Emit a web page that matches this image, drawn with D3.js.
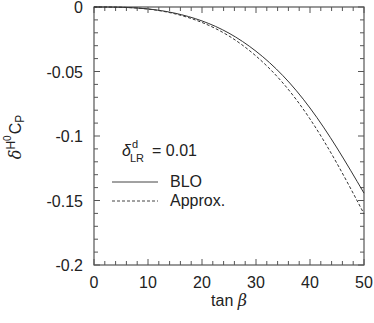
<!DOCTYPE html>
<html><head><meta charset="utf-8">
<script src="https://cdn.jsdelivr.net/npm/d3@7"></script>
<style>body{margin:0;background:#fff}svg{display:block}text{font-family:"Liberation Sans",Arial,sans-serif;fill:#222}</style>
</head><body><svg id="c" width="374" height="323"></svg>
<script>
const tanBeta = [0, 5, 10, 15, 20, 25, 30, 35, 40, 45, 50];
const bloValues = [0, -0.0002, -0.0015, -0.0048, -0.0108, -0.0203, -0.0343, -0.0533, -0.0783, -0.1093, -0.1443];
const approxValues = [0, -0.0002, -0.0016, -0.0053, -0.012, -0.0225, -0.038, -0.059, -0.0868, -0.1213, -0.1603];
const xTicks = [0, 10, 20, 30, 40, 50];
const yTicks = [0, -0.05, -0.1, -0.15, -0.2];
const yTickLabels = ["0", "-0.05", "-0.1", "-0.15", "-0.2"];

const svg = d3.select("#c");
const L = 94, R = 364, T = 7, B = 265;
const x = d3.scaleLinear().domain([0, 50]).range([L, R]);
const y = d3.scaleLinear().domain([-0.2, 0]).range([B, T]);
const axisCol = "#555";
const fs = 16;

const g = svg.append("g");
const xMinor = d3.range(0, 50.001, 2);
const yMinor = d3.range(-0.2, 0.0001, 0.01);
function tickLen(v, majors){ return majors.some(m => Math.abs(m - v) < 1e-6) ? 6 : 4; }
xMinor.forEach(v => {
  const l = tickLen(v, xTicks);
  g.append("line").attr("x1", x(v)).attr("x2", x(v)).attr("y1", B).attr("y2", B - l).attr("stroke", axisCol);
  g.append("line").attr("x1", x(v)).attr("x2", x(v)).attr("y1", T).attr("y2", T + l).attr("stroke", axisCol);
});
yMinor.forEach(v => {
  const l = tickLen(v, yTicks);
  g.append("line").attr("y1", y(v)).attr("y2", y(v)).attr("x1", L).attr("x2", L + l).attr("stroke", axisCol);
  g.append("line").attr("y1", y(v)).attr("y2", y(v)).attr("x1", R).attr("x2", R - l).attr("stroke", axisCol);
});
g.append("rect").attr("x", L).attr("y", T).attr("width", R - L).attr("height", B - T)
  .attr("fill", "none").attr("stroke", axisCol).attr("stroke-width", 1.2);

xTicks.forEach(v => {
  svg.append("text").attr("x", x(v)).attr("y", 288).attr("text-anchor", "middle")
    .attr("font-size", fs).text(v);
});
yTicks.forEach((v, i) => {
  svg.append("text").attr("x", 83).attr("y", y(v) + 6).attr("text-anchor", "end")
    .attr("font-size", fs).text(yTickLabels[i]);
});

const xt = svg.append("text").attr("x", 229).attr("y", 306).attr("text-anchor", "middle").attr("font-size", fs);
xt.append("tspan").text("tan ");
xt.append("tspan").attr("font-family", "DejaVu Serif").attr("font-style", "italic").text("β");

const yt = svg.append("text").attr("transform", "translate(21,137) rotate(-90)").attr("text-anchor", "middle").attr("font-size", fs);
yt.append("tspan").attr("font-family", "DejaVu Serif").attr("font-style", "italic").text("δ");
yt.append("tspan").attr("font-size", 12).attr("dy", -6).text("H");
yt.append("tspan").attr("font-size", 10).attr("dy", -4).text("0");
yt.append("tspan").attr("dy", 10).attr("dx", 1).text("C");
yt.append("tspan").attr("font-size", 12).attr("dy", 3).text("P");

const line = d3.line().x((d, i) => x(tanBeta[i])).y(d => y(d)).curve(d3.curveNatural);
svg.append("path").attr("d", line(bloValues)).attr("fill", "none").attr("stroke", "#333").attr("stroke-width", 1);
svg.append("path").attr("d", line(approxValues)).attr("fill", "none").attr("stroke", "#333").attr("stroke-width", 1).attr("stroke-dasharray", "3,2");

// legend
svg.append("text").attr("x", 122).attr("y", 156).attr("font-size", fs)
  .attr("font-family", "DejaVu Serif").attr("font-style", "italic").text("δ");
svg.append("text").attr("x", 132).attr("y", 148).attr("font-size", 11).text("d");
svg.append("text").attr("x", 130).attr("y", 162).attr("font-size", 11).text("LR");
svg.append("text").attr("x", 152).attr("y", 156).attr("font-size", fs).text("= 0.01");

svg.append("line").attr("x1", 112).attr("x2", 158).attr("y1", 182).attr("y2", 182).attr("stroke", "#444");
svg.append("text").attr("x", 170).attr("y", 187).attr("font-size", fs).text("BLO");
svg.append("line").attr("x1", 112).attr("x2", 158).attr("y1", 201).attr("y2", 201).attr("stroke", "#444").attr("stroke-dasharray", "3,2");
svg.append("text").attr("x", 170).attr("y", 206).attr("font-size", fs).text("Approx.");
</script></body></html>
